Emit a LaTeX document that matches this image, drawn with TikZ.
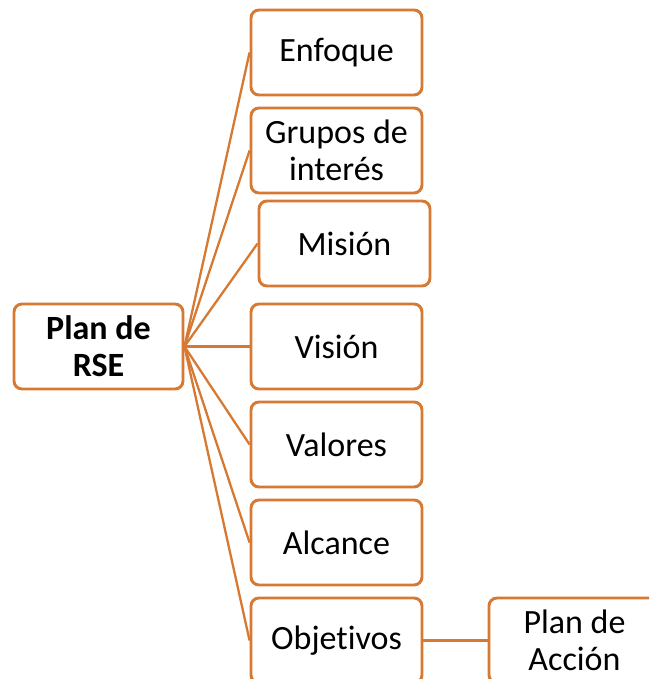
\documentclass[tikz,border=0pt]{standalone}
\usepackage{fontspec}
\setmainfont{Carlito}[Ligatures={NoCommon}]
\usepackage{tikz}
\definecolor{rseorange}{RGB}{214,121,50}

\begin{document}
\begin{tikzpicture}[x=1pt, y=1pt,
        grow'=right,
        level distance=238pt,
        level 1/.style={sibling distance=98pt},
        edge from parent/.style={draw=rseorange, line width=2.3pt},
        edge from parent path={(\tikzparentnode.east) -- (\tikzchildnode.west)},
        every node/.style = {shape=rectangle, rounded corners=8pt, draw=rseorange,
          line width=2.9pt, fill=white, minimum width=171pt, minimum height=85pt,
          align=center, font=\fontsize{34}{37}\selectfont}]
      \useasboundingbox (0,0) rectangle (649,-679);
      \clip (0,0) rectangle (649,-679);
      \node[minimum width=169pt, font=\fontsize{34}{37}\selectfont\bfseries] (rse) at (98.5,-346.5) {Plan de\\RSE}
        child {node (enfoque) {Enfoque}}
        child {node (grupos) {Grupos de\\interés}}
        child {node[xshift=8pt, yshift=5pt] (mision) {Misión}}
        child {node (vision) {Visión}}
        child {node (valores) {Valores}}
        child {node (alcance) {Alcance}}
        child {node (objetivos) {Objetivos}
          child {node (accion) {Plan de\\Acción}}};
    \end{tikzpicture}
\end{document}
